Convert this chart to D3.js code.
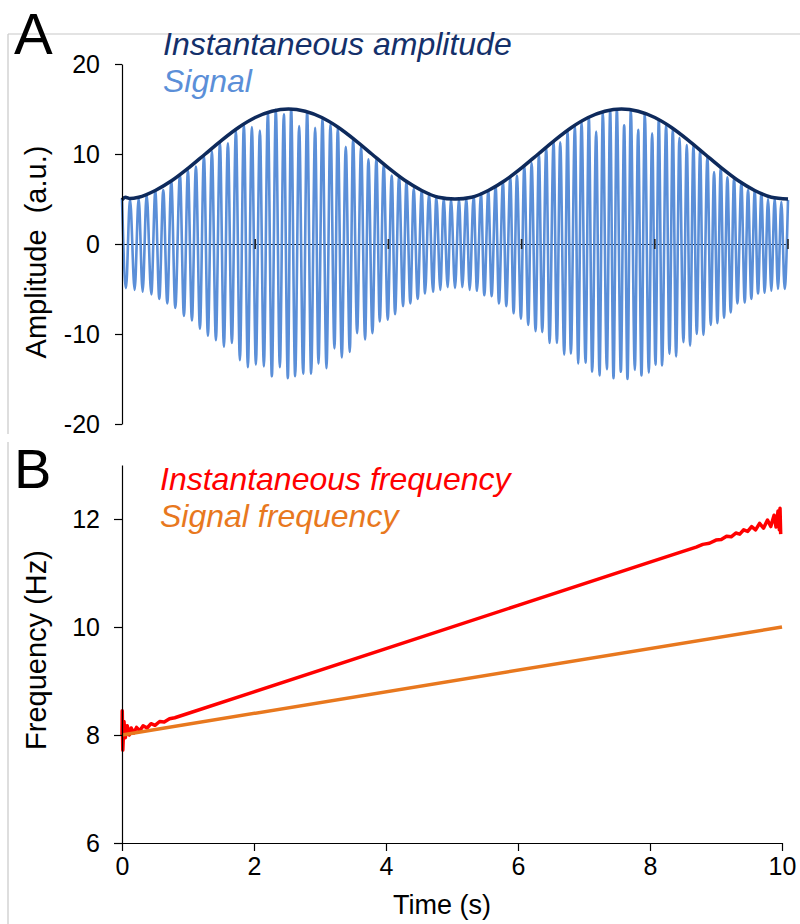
<!DOCTYPE html>
<html>
<head>
<meta charset="utf-8">
<script src="https://d3js.org/d3.v7.min.js"></script>
<style>
  body { margin: 0; background: #fff; }
  svg text { font-family: "Liberation Sans", Arial, sans-serif; }
  .axis path, .axis line { stroke: #000; stroke-width: 1.2; }
  .axis text { font-size: 25px; fill: #000; }
</style>
</head>
<body>
<script>
// ---- data ----
const timeTicks = [0, 2, 4, 6, 8, 10];
const ampTicks = [-20, -10, 0, 10, 20];
const freqTicks = [6, 8, 10, 12];
const zeroTicks = [2, 4, 6, 8, 10];

// instantaneous amplitude (envelope)
const envTimes = [0, 0.05, 0.12, 0.25, 0.5, 0.75, 1, 1.25, 1.5, 1.75, 2, 2.25, 2.5, 2.75, 3, 3.25, 3.5, 3.75, 4, 4.25, 4.5, 4.75,
                  5, 5.25, 5.5, 5.75, 6, 6.25, 6.5, 6.75, 7, 7.25, 7.5, 7.75, 8, 8.25, 8.5, 8.75, 9, 9.25, 9.5, 9.75, 10];
const envValues = [4.9, 5.2, 5.05, 5.2, 5.95, 7.05, 8.45, 10.0, 11.55, 12.95, 14.05, 14.75, 15.0, 14.75, 14.05, 12.95, 11.55, 10.0, 8.45, 7.05, 5.95, 5.2,
                   5.0, 5.2, 5.95, 7.05, 8.45, 10.0, 11.55, 12.95, 14.05, 14.75, 15.0, 14.75, 14.05, 12.95, 11.55, 10.0, 8.45, 7.05, 5.95, 5.2, 5.0];

// signal: times and values of each peak / trough
const signalTimes = [
  0.00, 0.06, 0.12, 0.19, 0.25, 0.31, 0.37, 0.44, 0.50, 0.56, 0.62, 0.68, 0.74, 0.80, 0.87, 0.93, 0.99, 1.05, 1.11, 1.17,
  1.23, 1.29, 1.35, 1.41, 1.47, 1.53, 1.59, 1.65, 1.71, 1.77, 1.83, 1.89, 1.95, 2.01, 2.07, 2.13, 2.19, 2.25, 2.31, 2.37,
  2.43, 2.49, 2.54, 2.60, 2.66, 2.72, 2.78, 2.84, 2.90, 2.95, 3.01, 3.07, 3.13, 3.19, 3.24, 3.30, 3.36, 3.42, 3.47, 3.53,
  3.59, 3.65, 3.70, 3.76, 3.82, 3.87, 3.93, 3.99, 4.05, 4.10, 4.16, 4.22, 4.27, 4.33, 4.38, 4.44, 4.50, 4.55, 4.61, 4.67,
  4.72, 4.78, 4.83, 4.89, 4.94, 5.00, 5.06, 5.11, 5.17, 5.22, 5.28, 5.33, 5.39, 5.44, 5.50, 5.55, 5.61, 5.66, 5.72, 5.77,
  5.83, 5.88, 5.93, 5.99, 6.04, 6.10, 6.15, 6.21, 6.26, 6.31, 6.37, 6.42, 6.48, 6.53, 6.58, 6.64, 6.69, 6.74, 6.80, 6.85,
  6.90, 6.96, 7.01, 7.06, 7.12, 7.17, 7.22, 7.28, 7.33, 7.38, 7.43, 7.49, 7.54, 7.59, 7.64, 7.70, 7.75, 7.80, 7.85, 7.91,
  7.96, 8.01, 8.06, 8.11, 8.17, 8.22, 8.27, 8.32, 8.37, 8.43, 8.48, 8.53, 8.58, 8.63, 8.68, 8.73, 8.79, 8.84, 8.89, 8.94,
  8.99, 9.04, 9.09, 9.14, 9.19, 9.24, 9.30, 9.35, 9.40, 9.45, 9.50, 9.55, 9.60, 9.65, 9.70, 9.75, 9.80, 9.85, 9.90, 9.95,
  10.00];
const signalValues = [
  5.0, -4.9, 5.0, -5.1, 5.1, -5.3, 5.5, -5.6, 5.9, -6.1, 6.0, -6.6, 7.0, -7.1, 7.7, -8.0, 8.2, -8.5, 8.6, -9.4,
  9.8, -10.2, 10.3, -10.7, 11.3, -11.4, 11.2, -11.0, 12.6, -12.9, 13.3, -13.7, 13.0, -13.4, 12.6, -13.6, 14.6, -14.7, 14.9, -13.7,
  14.4, -14.9, 15.0, -14.7, 13.1, -14.4, 14.6, -14.4, 12.9, -13.3, 14.0, -13.8, 13.3, -11.6, 12.9, -12.6, 10.8, -12.0, 11.7, -9.9,
  10.8, -10.6, 9.4, -9.9, 9.5, -8.6, 8.8, -8.4, 7.6, -7.8, 7.5, -6.9, 6.9, -6.6, 6.1, -6.1, 5.9, -5.5, 5.6, -5.3,
  5.2, -5.1, 5.1, -4.8, 5.0, -4.9, 5.0, -4.8, 5.1, -5.1, 5.3, -5.2, 5.6, -5.7, 5.9, -5.8, 6.4, -6.6, 6.9, -6.9,
  7.4, -7.7, 7.6, -8.3, 8.7, -9.0, 9.0, -9.7, 10.0, -9.8, 10.7, -11.0, 11.4, -11.0, 11.3, -12.3, 12.6, -12.2, 13.1, -13.3,
  13.6, -13.2, 14.0, -14.2, 12.5, -14.6, 14.6, -13.9, 14.8, -14.9, 14.9, -14.2, 13.2, -15.0, 14.9, -14.0, 12.7, -14.6, 14.5, -14.3,
  12.3, -13.4, 13.8, -13.5, 13.3, -12.2, 12.8, -12.5, 11.8, -10.9, 11.0, -11.3, 11.0, -10.0, 10.4, -10.1, 9.7, -9.0, 8.0, -8.8,
  8.5, -8.2, 7.4, -7.6, 7.3, -6.6, 6.8, -6.5, 6.0, -6.1, 5.9, -5.5, 5.6, -5.4, 5.0, -5.2, 5.1, -5.0, 4.7, -5.0,
  4.9];

// signal frequency (straight chirp) and instantaneous frequency estimate
const sigFreqTimes = [0, 10];
const sigFreqValues = [8, 10];
const instFreqTimes = [0, 0.004, 0.012, 0.03, 0.05, 0.08, 0.11, 0.14, 0.18, 0.22, 0.27, 0.32, 0.38, 0.44, 0.5, 0.57, 0.64, 0.72, 0.8,
                       2, 4, 6, 8, 8.5, 8.7, 8.8, 8.9, 9.0, 9.08, 9.16, 9.23, 9.3, 9.36, 9.42, 9.48, 9.54, 9.6, 9.66, 9.72, 9.78,
                       9.83, 9.88, 9.91, 9.94, 9.96, 9.97, 9.98];
const instFreqValues = [8.0, 8.45, 7.72, 8.25, 7.95, 8.17, 8.0, 8.13, 8.04, 8.14, 8.08, 8.17, 8.13, 8.21, 8.18, 8.25, 8.24, 8.3, 8.32,
                        8.8, 9.6, 10.4, 11.2, 11.4, 11.48, 11.53, 11.55, 11.61, 11.62, 11.68, 11.67, 11.74, 11.72, 11.80, 11.77, 11.86, 11.80, 11.92, 11.83, 11.98,
                        11.86, 12.07, 11.85, 12.15, 11.8, 12.2, 11.72];

let svg = null;
let xA, yA, xB, yB = null;

appendSvg("body");
drawFrames();
setupScalesA();
setupScalesB();
appendPanelA();
appendPanelB();
appendLabels();

function appendSvg(domElement) {
  svg = d3.select(domElement).append("svg")
    .attr("width", 800)
    .attr("height", 924);
}

function drawFrames() {
  // light grey borders of the two panels
  const g = svg.append("g").attr("stroke", "#c8c8c8").attr("stroke-width", 1.2);
  g.append("line").attr("x1", 8).attr("y1", 34).attr("x2", 800).attr("y2", 34);
  g.append("line").attr("x1", 8).attr("y1", 34).attr("x2", 8).attr("y2", 434);
  g.append("line").attr("x1", 8).attr("y1", 442).attr("x2", 8).attr("y2", 924);
}

function setupScalesA() {
  xA = d3.scaleLinear().domain([0, 10]).range([122, 788]);
  yA = d3.scaleLinear().domain([-20, 20]).range([424, 64]);
}

function setupScalesB() {
  xB = d3.scaleLinear().domain([0, 10]).range([122, 782]);
  yB = d3.scaleLinear().domain([6, 13]).range([843, 465]);
}

function appendPanelA() {
  // zero line, behind the signal
  svg.append("g")
    .attr("class", "axis")
    .attr("transform", `translate(0, ${yA(0)})`)
    .call(d3.axisBottom(xA).tickValues(zeroTicks).tickSize(0).tickSizeOuter(0).tickFormat(""))
    .call(g => g.select(".domain").attr("stroke", "#333").attr("stroke-width", 1));

  const signal = signalTimes.map((t, i) => ({t: t, v: signalValues[i]}));
  const sigLine = d3.line()
    .x(d => xA(d.t))
    .y(d => yA(d.v))
    .curve(d3.curveMonotoneX);
  svg.append("path")
    .datum(signal)
    .attr("fill", "none")
    .attr("stroke", "#5b8fd8")
    .attr("stroke-width", 2.6)
    .attr("d", sigLine);

  // ticks crossing the zero line
  svg.append("g")
    .selectAll("line")
    .data(zeroTicks)
    .enter().append("line")
    .attr("x1", d => xA(d)).attr("x2", d => xA(d))
    .attr("y1", yA(0) - 5).attr("y2", yA(0) + 5)
    .attr("stroke", "#222")
    .attr("stroke-width", 1.6);

  const env = envTimes.map((t, i) => ({t: t, v: envValues[i]}));
  const envLine = d3.line()
    .x(d => xA(d.t))
    .y(d => yA(d.v))
    .curve(d3.curveMonotoneX);
  svg.append("path")
    .datum(env)
    .attr("fill", "none")
    .attr("stroke", "#0e2a5c")
    .attr("stroke-width", 3.5)
    .attr("d", envLine);

  svg.append("g")
    .attr("class", "axis")
    .attr("transform", `translate(${xA(0)}, 0)`)
    .call(d3.axisLeft(yA).tickValues(ampTicks).tickSize(7).tickSizeOuter(0).tickPadding(15)
      .tickFormat(d => String(d)));
}

function appendPanelB() {
  const inst = instFreqTimes.map((t, i) => ({t: t, v: instFreqValues[i]}));
  const sig = sigFreqTimes.map((t, i) => ({t: t, v: sigFreqValues[i]}));
  const line = d3.line()
    .x(d => xB(d.t))
    .y(d => yB(d.v));

  svg.append("path")
    .datum(inst)
    .attr("fill", "none")
    .attr("stroke", "#ff0000")
    .attr("stroke-width", 3.5)
    .attr("stroke-linejoin", "round")
    .attr("d", line);

  svg.append("path")
    .datum(sig)
    .attr("fill", "none")
    .attr("stroke", "#e8781e")
    .attr("stroke-width", 3.5)
    .attr("d", line);

  svg.append("g")
    .attr("class", "axis")
    .attr("transform", `translate(0, ${yB(6)})`)
    .call(d3.axisBottom(xB).tickValues(timeTicks).tickSize(8).tickSizeOuter(0).tickPadding(6)
      .tickFormat(d => String(d)));

  svg.append("g")
    .attr("class", "axis")
    .attr("transform", `translate(${xB(0)}, 0)`)
    .call(d3.axisLeft(yB).tickValues(freqTicks).tickSize(8).tickSizeOuter(0).tickPadding(14)
      .tickFormat(d => String(d)));
}

function appendLabels() {
  svg.append("text").attr("x", 14).attr("y", 54)
    .attr("font-size", 58).text("A");
  svg.append("text").attr("x", 14).attr("y", 488)
    .attr("font-size", 56).text("B");

  const legend = [
    {x: 163, y: 55, text: "Instantaneous amplitude", color: "#14306a"},
    {x: 163, y: 92, text: "Signal", color: "#5b8fd8"},
    {x: 160, y: 490, text: "Instantaneous frequency", color: "#ff0000"},
    {x: 160, y: 527, text: "Signal frequency", color: "#e8781e"}
  ];
  svg.selectAll(".legend")
    .data(legend)
    .enter().append("text")
    .attr("class", "legend")
    .attr("x", d => d.x).attr("y", d => d.y)
    .attr("font-size", 32)
    .attr("font-style", "italic")
    .attr("fill", d => d.color)
    .text(d => d.text);

  svg.append("text")
    .attr("transform", "translate(46, 252) rotate(-90)")
    .attr("text-anchor", "middle")
    .attr("font-size", 29)
    .style("white-space", "pre")
    .text("Amplitude  (a.u.)");
  svg.append("text")
    .attr("transform", "translate(46, 650) rotate(-90)")
    .attr("text-anchor", "middle")
    .attr("font-size", 29)
    .text("Frequency (Hz)");
  svg.append("text")
    .attr("x", 442).attr("y", 914)
    .attr("text-anchor", "middle")
    .attr("font-size", 27)
    .text("Time (s)");
}
</script>
</body>
</html>
